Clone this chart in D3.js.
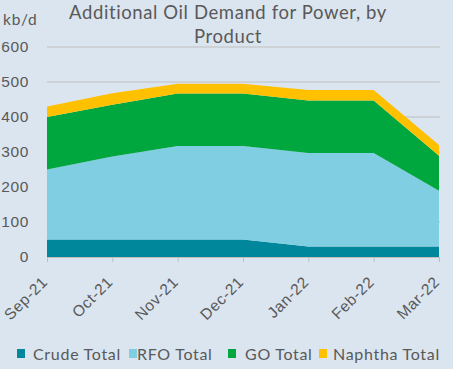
<!DOCTYPE html>
<html><head><meta charset="utf-8">
<script src="https://cdn.jsdelivr.net/npm/d3@7"></script>
<style>
html,body{margin:0;padding:0;background:#dbe5ef;}
svg{display:block;font-family:Lato,"Open Sans",sans-serif;}
</style></head>
<body>
<svg id="c" width="453" height="369"></svg>
<script>
const months = ["Sep-21","Oct-21","Nov-21","Dec-21","Jan-22","Feb-22","Mar-22"];
const crude = [50, 50, 50, 50, 30, 30, 30];
const rfo = [200, 237, 267, 267, 267, 267, 159];
const go = [150, 148, 150, 150, 150, 150, 100];
const naphtha = [30, 33, 28, 28, 30, 30, 31];
const seriesNames = ["Crude Total","RFO Total","GO Total","Naphtha Total"];
const colors = ["#00879c","#80cee2","#00a63e","#ffc000"];
const yTicks = [0,100,200,300,400,500,600];

const svg = d3.select("#c");
const W = 453, H = 369;
svg.append("rect").attr("width",W).attr("height",H).attr("fill","#dbe5ef");

const x = d3.scalePoint().domain(months).range([47, 439]);
const y = d3.scaleLinear().domain([0,600]).range([257, 47]);

const table = months.map((m,i)=>({m, "Crude Total":crude[i], "RFO Total":rfo[i], "GO Total":go[i], "Naphtha Total":naphtha[i]}));
const stack = d3.stack().keys(seriesNames)(table);

// gridlines
svg.append("g").selectAll("line").data(yTicks.filter(d=>d>0)).join("line")
  .attr("x1",47).attr("x2",440).attr("y1",d=>y(d)).attr("y2",d=>y(d))
  .attr("stroke","#bfbfbf").attr("stroke-width",1);

const area = d3.area().x(d=>x(d.data.m)).y0(d=>y(d[0])).y1(d=>y(d[1]));
svg.append("g").selectAll("path").data(stack).join("path")
  .attr("d",area).attr("fill",(d,i)=>colors[i]);

// x axis
const xa = svg.append("g").attr("transform","translate(0,257)")
  .call(d3.axisBottom(x).tickSize(5).tickSizeOuter(0));
xa.select(".domain").attr("stroke","#bfbfbf");
xa.selectAll(".tick line").attr("stroke","#bfbfbf");
xa.selectAll(".tick text").attr("fill","#595959").style("font-size","15.5px").style("letter-spacing","0.6px")
  .attr("text-anchor","end").attr("dy",null).attr("y",null)
  .attr("transform","translate(1,26) rotate(-45)");

// y axis labels
const ya = svg.append("g").attr("transform","translate(29,0)")
  .call(d3.axisLeft(y).tickValues(yTicks).tickSize(0));
ya.select(".domain").remove();
ya.selectAll(".tick text").attr("fill","#595959").style("font-size","15.5px").style("letter-spacing","0.6px").attr("x",0);

svg.append("text").attr("x",3).attr("y",25).attr("fill","#595959").style("font-size","15.5px").style("letter-spacing","0.8px").text("kb/d");

const title = svg.append("text").attr("text-anchor","middle").attr("fill","#595959").style("font-size","18.5px").style("letter-spacing","0.6px");
title.append("tspan").attr("x",228).attr("y",19).text("Additional Oil Demand for Power, by");
title.append("tspan").attr("x",228).attr("y",43).text("Product");

// legend
const legSq = [17, 129, 228, 319];
const legTx = [33, 137, 245, 333];
const lg = svg.append("g").selectAll("g").data(seriesNames).join("g");
lg.append("rect").attr("x",(d,i)=>legSq[i]).attr("y",349).attr("width",8).attr("height",9).attr("fill",(d,i)=>colors[i]);
lg.append("text").attr("x",(d,i)=>legTx[i]).attr("y",360).attr("fill","#595959").style("font-size","16px").style("letter-spacing","0.7px").text(d=>d);
</script>
</body></html>
